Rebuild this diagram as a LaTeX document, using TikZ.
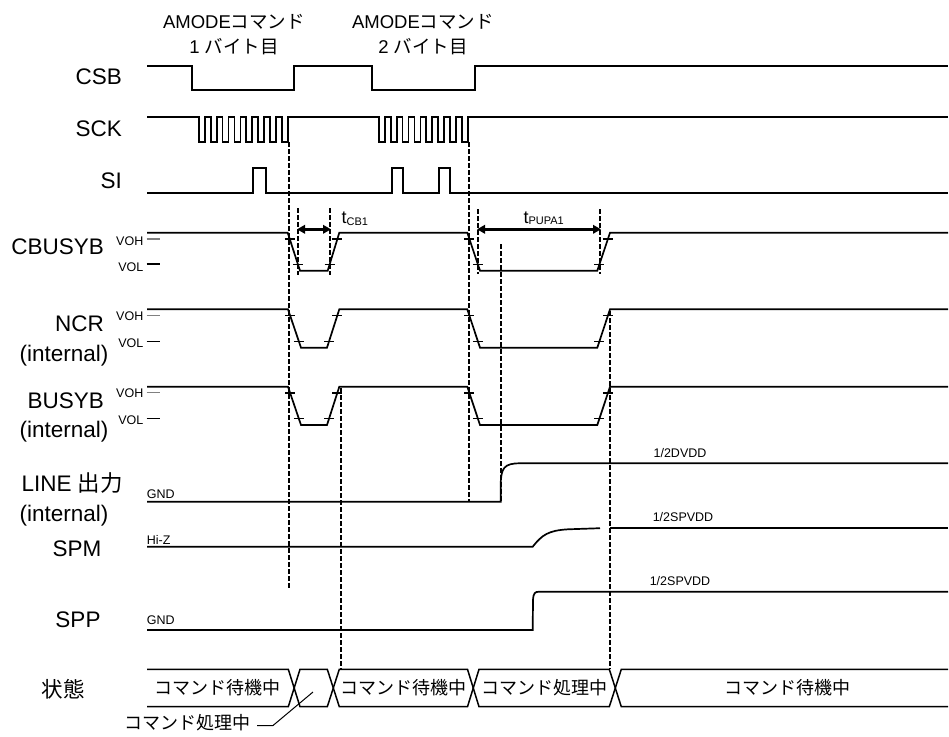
\documentclass[tikz,border=0pt]{standalone}
\usepackage{fontspec}
\setmainfont{Liberation Sans}
\newfontfamily\jp{Noto Sans CJK JP}
\usetikzlibrary{calc,arrows.meta}
\tikzset{
  wave/.style={line width=1.7pt, line join=miter},
  dsh/.style={line width=2pt, dash pattern=on 4.5pt off 2.5pt},
  tk/.style={line width=1.2pt},
  sig/.style={font=\fontsize{22.5}{24}\selectfont, inner sep=0pt},
  lvl/.style={font=\fontsize{12.5}{13}\selectfont, inner sep=0pt},
  top/.style={font=\fontsize{18.5}{20}\selectfont, inner sep=0pt},
  st/.style={font=\jp\fontsize{18}{19}\selectfont, inner sep=0pt},
  dim/.style={line width=2.8pt, {Triangle[length=8pt,width=8.5pt]}-{Triangle[length=8pt,width=8.5pt]}, shorten <=-1pt, shorten >=-1pt},
}
\newcommand\edgetk[4]{%
  \draw[tk] ($(#1,#2)!0.165!(#3,#4)$) ++(-5,0) -- ++(10,0);
  \draw[tk] ($(#1,#2)!0.835!(#3,#4)$) ++(-5,0) -- ++(10,0);}
\begin{document}
\begin{tikzpicture}[x=1pt,y=-1pt]
\useasboundingbox (0,0) rectangle (949,736);
\fill[white] (0,0) rectangle (949,736);
% top labels
\node[top] (h1a) at (234,22) {AMODE{\jp コマンド}};
\node[top] (h1b) at (234,47) {1 {\jp バイト目}};
\node[top] (h2a) at (423,22) {AMODE{\jp コマンド}};
\node[top] (h2b) at (423,47) {2 {\jp バイト目}};
% signal labels
\node[sig,anchor=base east] (lcsb) at (122,84) {CSB};
\node[sig,anchor=base east] (lsck) at (122,136) {SCK};
\node[sig,anchor=base east] (lsi) at (122,188) {SI};
\node[sig,anchor=base east] (lcb) at (104,254.7) {CBUSYB};
\node[sig,anchor=base east] (lncr) at (104,331.3) {NCR};
\node[sig,anchor=base east] (lncri) at (108.5,361.3) {(internal)};
\node[sig,anchor=base east] (lbusy) at (104,408) {BUSYB};
\node[sig,anchor=base east] (lbusyi) at (108.5,437.3) {(internal)};
\node[sig,anchor=base west] (lline) at (21.5,491.3) {LINE {\jp 出力}};
\node[sig,anchor=base east] (llinei) at (108.5,521.3) {(internal)};
\node[sig,anchor=base] (lspm) at (77,556.3) {SPM};
\node[sig] (lspp) at (78,620) {SPP};
\node[sig,font=\jp\fontsize{21.5}{23}\selectfont] (lst) at (63,689) {状態};
% VOH / VOL
\foreach \n/\h/\ho/\lo/\hy/\ly in {a/239/240.8/267/239/264, b/315.7/316/343/315.7/341.7, c/392.5/393.3/420.5/392.5/418.7}{
  \node[lvl,anchor=east] (voh\n) at (143.5,\ho) {VOH};
  \node[lvl,anchor=east] (vol\n) at (143.5,\lo) {VOL};
  \draw[tk,gray] (146.7,\hy) -- (160,\hy);
  \draw[tk] (146.7,\ly) -- (160,\ly);
}
% CSB
\draw[wave] (147,66) -- (191.7,66) -- (191.7,90) -- (294,90) -- (294,66) -- (371.7,66) -- (371.7,90) -- (475,90) -- (475,66) -- (948,66);
% SCK
\draw[wave] (147,117) -- (199,117) \foreach \k in {1,...,8}{ -- ++(0,25) -- ++(5.91,0) -- ++(0,-25) -- ++(5.91,0)} -- (379,117)
  \foreach \k in {1,...,8}{ -- ++(0,25) -- ++(5.91,0) -- ++(0,-25) -- ++(5.91,0)} -- (948,117);
% SI
\draw[wave] (147,192.7) -- (253.3,192.7) -- (253.3,168.3) -- (265.7,168.3) -- (265.7,192.7) -- (391.7,192.7) -- (391.7,168.3) -- (403.3,168.3) -- (403.3,192.7) -- (439,192.7) -- (439,168.3) -- (450,168.3) -- (450,192.7) -- (948,192.7);
% CBUSYB
\draw[wave] (147,232.7) -- (287.7,232.7) -- (300,270.7) -- (327.7,270.7) -- (339.3,232.7) -- (467.3,232.7) -- (480,270.7) -- (597.3,270.7) -- (610,232.7) -- (948,232.7);
\edgetk{287.7}{232.7}{300}{270.7}
\edgetk{339.3}{232.7}{327.7}{270.7}
\edgetk{467.3}{232.7}{480}{270.7}
\edgetk{610}{232.7}{597.3}{270.7}
% NCR
\draw[wave] (147,309.3) -- (288,309.3) -- (301,347.7) -- (327,347.7) -- (339.3,309.3) -- (467.3,309.3) -- (480,347.7) -- (597.3,347.7) -- (610,309.3) -- (948,309.3);
\edgetk{288}{309.3}{301}{347.7}
\edgetk{339.3}{309.3}{327}{347.7}
\edgetk{467.3}{309.3}{480}{347.7}
\edgetk{610}{309.3}{597.3}{347.7}
% BUSYB
\draw[wave] (147,386.7) -- (288,386.7) -- (301,425) -- (327,425) -- (339.3,386.7) -- (467.3,386.7) -- (480,425) -- (597.3,425) -- (610,386.7) -- (948,386.7);
\edgetk{288}{386.7}{301}{425}
\edgetk{339.3}{386.7}{327}{425}
\edgetk{467.3}{386.7}{480}{425}
\edgetk{610}{386.7}{597.3}{425}
% LINE
\node[lvl,anchor=west] (gnd1) at (146.7,494) {GND};
\draw[wave] (147,501.7) -- (500.7,501.7) -- (500.7,485) .. controls (500.9,468) and (504,463.3) .. (520,463.3) -- (948,463.3);
\node[lvl] (v1) at (680,452.7) {1/2DVDD};
% SPM
\node[lvl,anchor=west] (hiz) at (146.7,540) {Hi-Z};
\draw[wave] (147,546.7) -- (532.7,546.7) .. controls (542,535) and (548,530.5) .. (568,529.3) -- (600,528.2);
\draw[wave] (609.5,527.7) -- (948,527.7);
\node[lvl] (v2) at (683,516.7) {1/2SPVDD};
% SPP
\node[lvl,anchor=west] (gnd2) at (146.7,620) {GND};
\draw[wave] (147,630) -- (532.7,630) -- (533,600) .. controls (533.4,593) and (535,591.7) .. (539,591.7) -- (948,591.7);
\node[lvl] (v3) at (680,580.7) {1/2SPVDD};
% dashed guides
\draw[dsh] (289,142) -- (289,588);
\draw[dsh] (468.5,142) -- (468.5,502);
\draw[dsh] (298,208) -- (298,275);
\draw[dsh] (330,208) -- (330,275);
\draw[dsh] (478,209) -- (478,274);
\draw[dsh] (600,209) -- (600,274);
\draw[dsh] (501,244) -- (501,502);
\draw[dsh] (340.5,388) -- (340.5,669);
\draw[dsh] (609.5,311) -- (609.5,669);
% dimension arrows
\coordinate (cbA) at (298,229.3);
\coordinate (cbB) at (330,229.3);
\coordinate (puA) at (478,229.3);
\coordinate (puB) at (600,229.3);
\draw[dim] (cbA) -- (cbB);
\draw[dim] (puA) -- (puB);
\node[anchor=base west,inner sep=0pt,font=\fontsize{18}{19}\selectfont] (tcb) at (341.5,223.5) {t\raisebox{-1.5pt}{\fontsize{11}{12}\selectfont CB1}};
\node[anchor=base west,inner sep=0pt,font=\fontsize{18}{19}\selectfont] (tpu) at (523.3,223.3) {t\raisebox{-1.5pt}{\fontsize{11}{12}\selectfont PUPA1}};
% state row
\def\ty{669.3}\def\by{706.7}
\draw[line width=1.5pt] (147,\ty) -- (288.3,\ty) -- (300,\by) -- (327.3,\by) -- (339.3,\ty) -- (467.5,\ty) -- (479,\by) -- (609.3,\by) -- (621.3,\ty) -- (948,\ty);
\draw[line width=1.5pt] (147,\by) -- (288.3,\by) -- (300,\ty) -- (327.3,\ty) -- (339.3,\by) -- (467.5,\by) -- (479,\ty) -- (609.3,\ty) -- (621.3,\by) -- (948,\by);
\node[st] (s1) at (217.5,688) {コマンド待機中};
\node[st] (s2) at (403,688) {コマンド待機中};
\node[st] (s3) at (544,688) {コマンド処理中};
\node[st] (s4) at (787,688) {コマンド待機中};
\node[st,anchor=east] (s5) at (251,723) {コマンド処理中};
\coordinate (ldA) at (257,725.5);
\coordinate (ldB) at (273,725.5);
\coordinate (ldC) at (313,692);
\draw[line width=1pt] (ldA) -- (ldB) -- (ldC);
\end{tikzpicture}
\end{document}
